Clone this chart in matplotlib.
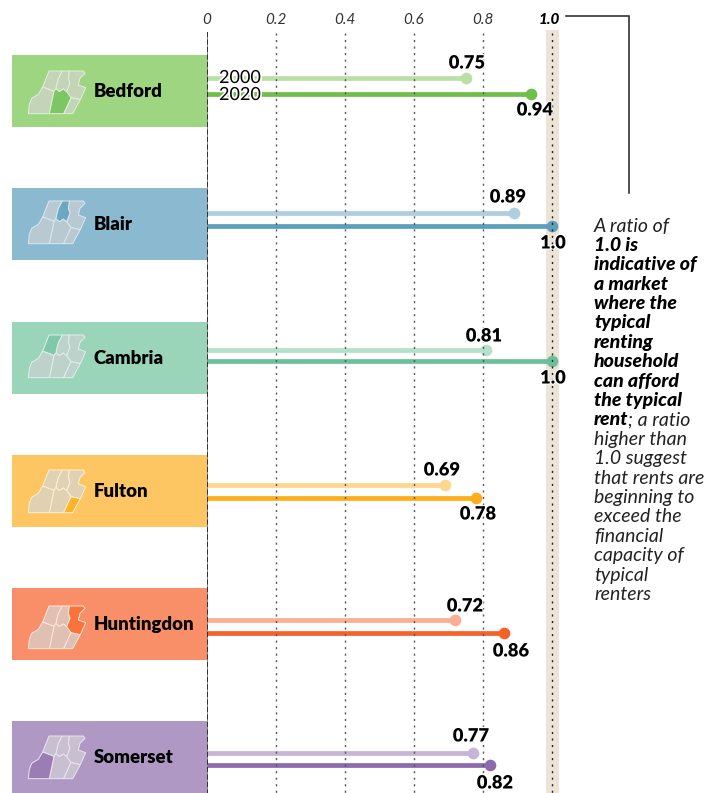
import matplotlib
matplotlib.use("Agg")
import matplotlib.pyplot as plt
import matplotlib.patheffects as pe
from matplotlib.patches import Polygon, Rectangle
from matplotlib.transforms import ScaledTranslation

plt.rcParams["font.family"] = ["Lato", "DejaVu Sans"]

counties = ["Bedford", "Blair", "Cambria", "Fulton", "Huntingdon", "Somerset"]
ratio_2000 = [0.75, 0.89, 0.81, 0.69, 0.72, 0.77]
ratio_2020 = [0.94, 1.0, 1.0, 0.78, 0.86, 0.82]
label_2000 = ["0.75", "0.89", "0.81", "0.69", "0.72", "0.77"]
label_2020 = ["0.94", "1.0", "1.0", "0.78", "0.86", "0.82"]
x_ticks = [0, 0.2, 0.4, 0.6, 0.8, 1.0]
x_tick_labels = ["0", "0.2", "0.4", "0.6", "0.8", "1.0"]

note_lines = [
    ("A ratio of", "light"), ("1.0 is", "bold"), ("indicative of", "bold"),
    ("a market", "bold"), ("where the", "bold"), ("typical", "bold"),
    ("renting", "bold"), ("household", "bold"), ("can afford", "bold"),
    ("the typical", "bold"), ("rent", "mixed"), ("higher than", "light"),
    ("1.0 suggest", "light"), ("that rents are", "light"), ("beginning to", "light"),
    ("exceed the", "light"), ("financial", "light"), ("capacity of", "light"),
    ("typical", "light"), ("renters", "light"),
]

# layout, in pixels of the 715x793 picture
box_top = [55, 188, 322, 455, 588, 721]
y_2000 = [78, 213, 350, 485, 620, 753]
y_2020 = [94, 226, 361, 498, 633, 765]
label_x_2000 = [467, 508, 484, 442, 465, 471]
label_y_2000 = [63, 197, 336, 470, 606, 736]
label_x_2020 = [535, 553, 553, 478, 511, 495]
label_y_2020 = [110, 243, 378, 514, 651, 783]
icon_top = [71, 201, 335, 470, 606, 736]

box_colors = ["#9ed581", "#8bb9cf", "#9ad5b9", "#fdc662", "#f98f68", "#af98c3"]
map_colors = ["#c3d4b9", "#b9c9d2", "#bed2cc", "#e0d1b2", "#e0c0b3", "#c8c0d0"]
edge_colors = ["#e3f0da", "#dce8ee", "#dff0e8", "#fdf0d5", "#fde6dc", "#ebe4f0"]
hi_colors = ["#7cc763", "#6ba7c4", "#7fc9a8", "#feb32b", "#f8743b", "#9a7eb3"]
colors_2000 = ["#b9e0a5", "#aecfe0", "#b4e0cd", "#fdd78d", "#fbaf92", "#c6b5d6"]
colors_2020 = ["#6fbe4a", "#5d9fbd", "#6dbf9c", "#fdae1b", "#f66129", "#8d6aab"]

# county shapes for the small map, traced at 3x
shapes = {
    "Cambria": [(147, 92), (187, 92), (175, 115), (170, 135), (168, 145), (162, 153), (128, 140)],
    "Blair": [(187, 92), (208, 92), (205, 114), (210, 129), (200, 154), (190, 146), (178, 154), (168, 145), (170, 135), (175, 115)],
    "Huntingdon": [(208, 92), (250, 92), (255, 99), (240, 114), (235, 134), (257, 142), (241, 178), (213, 172), (200, 154), (210, 129), (205, 114)],
    "Bedford": [(162, 153), (168, 145), (178, 154), (190, 146), (200, 154), (213, 172), (191, 220), (148, 220)],
    "Fulton": [(213, 172), (241, 178), (218, 220), (191, 220)],
    "Somerset": [(128, 140), (162, 153), (148, 220), (85, 220), (88, 192), (95, 174), (115, 162)],
}

fig = plt.figure(figsize=(7.15, 7.93), dpi=100)

# full picture overlay for boxes, maps and the note
bg = fig.add_axes([0, 0, 1, 1])
bg.set_xlim(0, 715)
bg.set_ylim(793, 0)
bg.axis("off")

bg.add_patch(Rectangle((546, 30), 13, 763, color="#ece4d5", lw=0))

for i, name in enumerate(counties):
    bg.add_patch(Rectangle((12, box_top[i]), 195, 72, color=box_colors[i], lw=0))
    for c, pts in shapes.items():
        if c == name:
            continue
        xy = [(x / 3, icon_top[i] + (y - 92) / 3) for x, y in pts]
        bg.add_patch(Polygon(xy, closed=True, fc=map_colors[i], ec=edge_colors[i], lw=0.7))
    xy = [(x / 3, icon_top[i] + (y - 92) / 3) for x, y in shapes[name]]
    bg.add_patch(Polygon(xy, closed=True, fc=hi_colors[i], ec=edge_colors[i], lw=0.7))
    bg.text(94, box_top[i] + 36.5, name, fontsize=13.4, fontweight="heavy", color="black", va="center", ha="left")

bg.plot([566, 629, 629], [16, 16, 193], color="#222222", lw=1.1, solid_joinstyle="miter")

# the chart itself
ax = fig.add_axes([207 / 715, 0, (560 - 207) / 715, (793 - 30) / 793])
ax.set_xlim(0, 353 / 345)
ax.set_ylim(793, 30)
ax.patch.set_alpha(0)
for s in ax.spines.values():
    s.set_visible(False)
ax.set_yticks([])
ax.xaxis.tick_top()
ax.set_xticks(x_ticks)
ax.set_xticklabels(x_tick_labels, fontsize=11, style="italic", color="#333333")
ax.tick_params(axis="x", length=0, pad=2.5)
tl = ax.get_xticklabels()[-1]
tl.set_fontweight("black")
tl.set_color("black")
tl.set_transform(tl.get_transform() + ScaledTranslation(-3 / 100, 0, fig.dpi_scale_trans))

stroke = [pe.withStroke(linewidth=1.6, foreground="white")]

for i in range(len(counties)):
    ax.plot([0, ratio_2000[i]], [y_2000[i], y_2000[i]], color=colors_2000[i], lw=3.4, solid_capstyle="butt", zorder=2)
    ax.plot([ratio_2000[i]], [y_2000[i]], "o", color=colors_2000[i], ms=8.4, mew=0, zorder=2, clip_on=False)
    ax.plot([0, ratio_2020[i]], [y_2020[i], y_2020[i]], color=colors_2020[i], lw=3.4, solid_capstyle="butt", zorder=2)
    ax.plot([ratio_2020[i]], [y_2020[i]], "o", color=colors_2020[i], ms=8.4, mew=0, zorder=2, clip_on=False)

ax.vlines(x_ticks[1:-1], 33, 793, color="#555555", lw=1.0, linestyles=(0, (1.5, 3.2)), zorder=3)
ax.vlines(x_ticks[-1], 33, 793, color="#222222", lw=1.0, linestyles=(0, (1.5, 3.2)), zorder=3)
ax.vlines(0, 32, 793, color="#777777", lw=1.2, zorder=3)
ax.vlines(0, 32, 793, color="#222222", lw=1.2, linestyles=(0, (3, 1.5)), zorder=3)

for i in range(len(counties)):
    ax.text((label_x_2000[i] - 207) / 345, label_y_2000[i], label_2000[i], fontsize=13.2, fontweight="heavy",
            ha="center", va="center", path_effects=stroke, zorder=4, clip_on=False)
    ax.text((label_x_2020[i] - 207) / 345, label_y_2020[i], label_2020[i], fontsize=13.2, fontweight="heavy",
            ha="center", va="center", path_effects=stroke, zorder=4, clip_on=False)

ax.text(12 / 345, 78, "2000", fontsize=13, ha="left", va="center",
        path_effects=[pe.withStroke(linewidth=2.5, foreground="white")], zorder=4)
ax.text(12 / 345, 95, "2020", fontsize=13, ha="left", va="center",
        path_effects=[pe.withStroke(linewidth=2.5, foreground="white")], zorder=4)

# note on the right, one text per line so the breaks stay put
y = 226
for line, kind in note_lines:
    if kind == "mixed":
        t = bg.text(594, y, line, fontsize=14, style="italic", fontweight="black", va="center", ha="left")
        fig.canvas.draw()
        box = t.get_window_extent()
        bg.text(box.x1 * 715 / fig.bbox.width, y, "; a ratio", fontsize=14, style="italic", fontweight="normal",
                color="#222222", va="center", ha="left")
    elif kind == "bold":
        bg.text(594, y, line, fontsize=14, style="italic", fontweight="black", va="center", ha="left")
    else:
        bg.text(594, y, line, fontsize=14, style="italic", fontweight="normal", color="#222222", va="center", ha="left")
    y += 19.4

fig.savefig("out.png", dpi=100)
